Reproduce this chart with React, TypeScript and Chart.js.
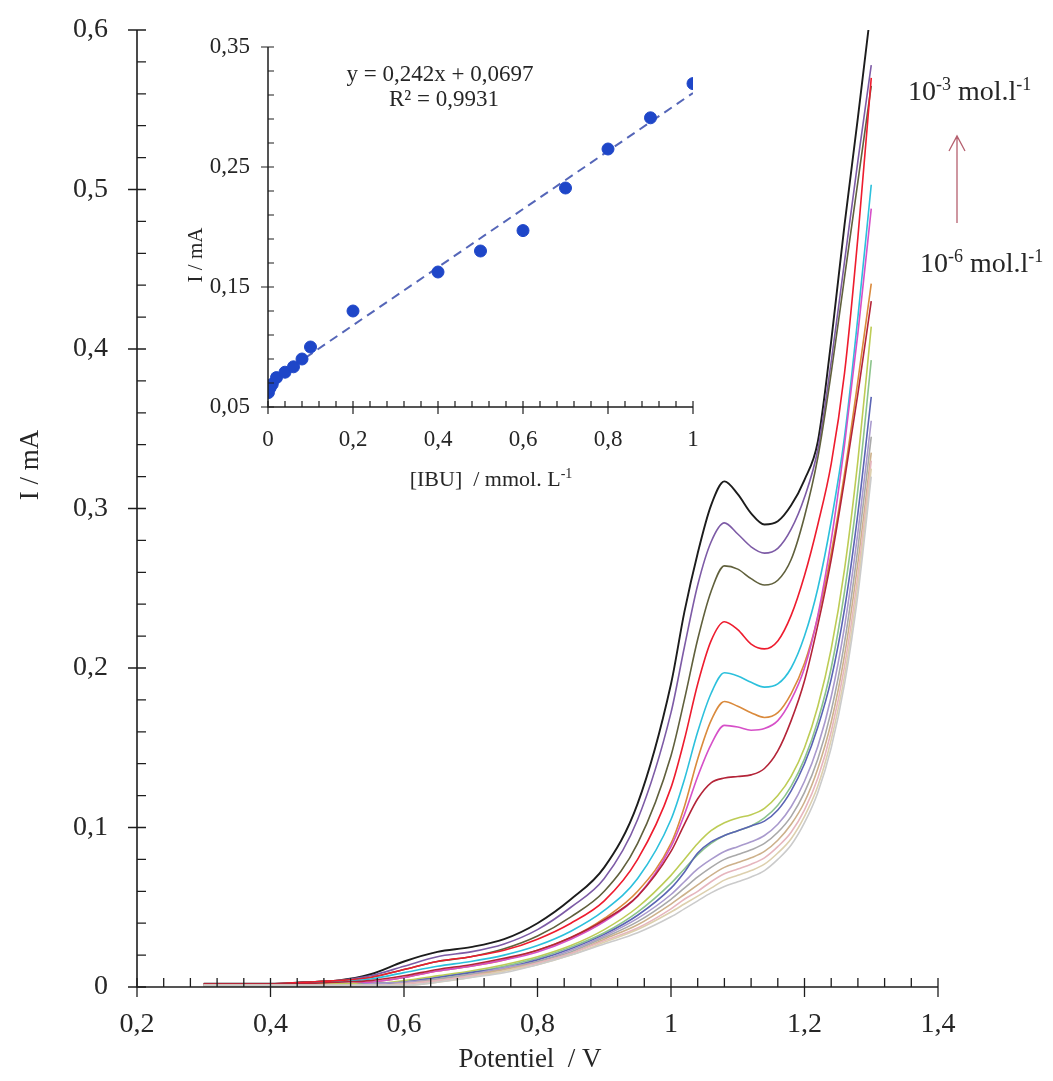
import React, { useEffect, useRef } from "react";
import { Chart, registerables } from "chart.js";

Chart.register(...registerables);

// ---------- Main chart data (Potential / V vs I / mA) ----------
const potentialV = [0.30, 0.35, 0.40, 0.45, 0.50, 0.55, 0.60, 0.65, 0.70, 0.75, 0.80, 0.85, 0.90, 0.95, 1.00, 1.02, 1.04, 1.06, 1.08, 1.10, 1.12, 1.14, 1.16, 1.18, 1.20, 1.22, 1.24, 1.26, 1.28, 1.30];

const curveBlack = [0.002, 0.002, 0.002, 0.003, 0.004, 0.008, 0.016, 0.022, 0.025, 0.030, 0.040, 0.055, 0.075, 0.115, 0.190, 0.235, 0.272, 0.302, 0.317, 0.309, 0.297, 0.290, 0.292, 0.302, 0.318, 0.342, 0.405, 0.478, 0.545, 0.615];
const curvePurple = [0.002, 0.002, 0.002, 0.003, 0.004, 0.007, 0.013, 0.019, 0.022, 0.027, 0.036, 0.050, 0.068, 0.105, 0.172, 0.213, 0.252, 0.279, 0.291, 0.284, 0.276, 0.272, 0.275, 0.287, 0.307, 0.337, 0.392, 0.455, 0.518, 0.578];
const curveOlive = [0.002, 0.002, 0.002, 0.003, 0.004, 0.006, 0.011, 0.016, 0.019, 0.024, 0.032, 0.044, 0.060, 0.090, 0.145, 0.180, 0.218, 0.248, 0.264, 0.262, 0.256, 0.252, 0.255, 0.268, 0.295, 0.332, 0.385, 0.445, 0.505, 0.565];
const curveRed = [0.002, 0.002, 0.002, 0.003, 0.004, 0.006, 0.011, 0.016, 0.019, 0.023, 0.030, 0.040, 0.054, 0.080, 0.125, 0.155, 0.190, 0.217, 0.229, 0.224, 0.215, 0.212, 0.217, 0.233, 0.258, 0.290, 0.328, 0.385, 0.470, 0.570];
const curveCyan = [0.001, 0.001, 0.002, 0.002, 0.003, 0.005, 0.009, 0.013, 0.016, 0.020, 0.026, 0.035, 0.048, 0.068, 0.105, 0.130, 0.160, 0.184, 0.197, 0.195, 0.191, 0.188, 0.190, 0.200, 0.220, 0.250, 0.292, 0.345, 0.420, 0.503];
const curveOrange = [0.001, 0.001, 0.001, 0.002, 0.002, 0.003, 0.006, 0.010, 0.013, 0.017, 0.023, 0.031, 0.043, 0.060, 0.090, 0.113, 0.143, 0.167, 0.179, 0.176, 0.172, 0.169, 0.172, 0.184, 0.203, 0.232, 0.272, 0.322, 0.380, 0.441];
const curveMagenta = [0.001, 0.001, 0.001, 0.002, 0.002, 0.003, 0.006, 0.010, 0.013, 0.017, 0.022, 0.030, 0.041, 0.057, 0.088, 0.108, 0.132, 0.152, 0.164, 0.163, 0.161, 0.162, 0.167, 0.180, 0.200, 0.233, 0.280, 0.340, 0.410, 0.488];
const curveDarkRed = [0.002, 0.002, 0.002, 0.002, 0.003, 0.004, 0.007, 0.011, 0.014, 0.018, 0.023, 0.031, 0.042, 0.057, 0.085, 0.102, 0.118, 0.128, 0.131, 0.132, 0.133, 0.137, 0.148, 0.167, 0.192, 0.227, 0.268, 0.318, 0.372, 0.430];
const curveYellowGreen = [0.001, 0.001, 0.001, 0.001, 0.002, 0.002, 0.004, 0.007, 0.010, 0.014, 0.019, 0.026, 0.036, 0.050, 0.070, 0.080, 0.090, 0.098, 0.103, 0.106, 0.108, 0.112, 0.120, 0.132, 0.150, 0.176, 0.212, 0.262, 0.330, 0.414];
const curveGreen = [0.001, 0.001, 0.001, 0.001, 0.001, 0.002, 0.003, 0.006, 0.009, 0.013, 0.018, 0.025, 0.034, 0.047, 0.065, 0.074, 0.083, 0.090, 0.095, 0.098, 0.101, 0.106, 0.114, 0.126, 0.143, 0.167, 0.200, 0.248, 0.312, 0.393];
const curveSlateBlue = [0.001, 0.001, 0.001, 0.001, 0.001, 0.002, 0.003, 0.006, 0.009, 0.012, 0.017, 0.024, 0.033, 0.045, 0.062, 0.072, 0.084, 0.091, 0.095, 0.098, 0.101, 0.104, 0.111, 0.123, 0.140, 0.163, 0.193, 0.237, 0.297, 0.370];
const curveLavender = [0.001, 0.001, 0.001, 0.001, 0.001, 0.002, 0.003, 0.005, 0.008, 0.012, 0.016, 0.023, 0.032, 0.043, 0.058, 0.066, 0.074, 0.080, 0.085, 0.088, 0.091, 0.095, 0.102, 0.113, 0.129, 0.151, 0.182, 0.226, 0.285, 0.355];
const curveGray = [0.001, 0.001, 0.001, 0.001, 0.001, 0.001, 0.002, 0.005, 0.008, 0.011, 0.016, 0.022, 0.031, 0.041, 0.055, 0.062, 0.069, 0.075, 0.080, 0.083, 0.086, 0.090, 0.097, 0.107, 0.122, 0.143, 0.173, 0.216, 0.275, 0.345];
const curveTan = [0.001, 0.001, 0.001, 0.001, 0.001, 0.001, 0.002, 0.004, 0.007, 0.011, 0.015, 0.021, 0.030, 0.039, 0.052, 0.058, 0.064, 0.070, 0.075, 0.078, 0.081, 0.085, 0.092, 0.102, 0.116, 0.137, 0.166, 0.208, 0.266, 0.335];
const curvePink = [0.001, 0.001, 0.001, 0.001, 0.001, 0.001, 0.002, 0.004, 0.007, 0.010, 0.015, 0.021, 0.029, 0.037, 0.049, 0.055, 0.060, 0.066, 0.071, 0.074, 0.077, 0.081, 0.088, 0.097, 0.111, 0.131, 0.160, 0.201, 0.258, 0.330];
const curveBeige = [0.001, 0.001, 0.001, 0.001, 0.001, 0.001, 0.001, 0.003, 0.006, 0.010, 0.014, 0.020, 0.028, 0.036, 0.047, 0.052, 0.057, 0.062, 0.067, 0.070, 0.073, 0.077, 0.084, 0.093, 0.107, 0.126, 0.155, 0.195, 0.252, 0.325];
const curveLightGray = [0.001, 0.001, 0.001, 0.001, 0.001, 0.001, 0.001, 0.003, 0.006, 0.009, 0.014, 0.020, 0.027, 0.034, 0.044, 0.049, 0.054, 0.059, 0.063, 0.066, 0.069, 0.073, 0.080, 0.089, 0.103, 0.122, 0.150, 0.190, 0.246, 0.320];

// drawn from back (first) to front (last)
const mainSeries = [curveLightGray, curveBeige, curvePink, curveTan, curveGray, curveLavender, curveSlateBlue, curveGreen, curveYellowGreen, curveDarkRed, curveMagenta, curveOrange, curveCyan, curveRed, curveOlive, curvePurple, curveBlack];
const mainColors = ["#cbcbcb", "#ddd0ae", "#e6b6be", "#cdb18b", "#a9a9a9", "#a99acd", "#5a64b4", "#8cc48c", "#bdcc55", "#b42438", "#d650c8", "#da8a3c", "#2cc0dc", "#ee1c2e", "#60603c", "#7d5ba6", "#1c1c1c"];

const mainXTicks = [0.2, 0.4, 0.6, 0.8, 1.0, 1.2, 1.4];
const mainYTicks = [0, 0.1, 0.2, 0.3, 0.4, 0.5, 0.6];

// ---------- Inset data ([IBU] / mmol.L-1 vs I / mA) ----------
const ibuConc = [0.001, 0.005, 0.01, 0.02, 0.04, 0.06, 0.08, 0.1, 0.2, 0.4, 0.5, 0.6, 0.7, 0.8, 0.9, 1.0];
const ibuCurrent = [0.062, 0.066, 0.069, 0.0745, 0.079, 0.0835, 0.090, 0.100, 0.130, 0.1625, 0.180, 0.197, 0.2325, 0.265, 0.291, 0.3195];
const fitConc = [0, 1];
const fitCurrent = [0.0697, 0.3117];

const insetXTicks = [0, 0.2, 0.4, 0.6, 0.8, 1];
const insetYTicks = [0.05, 0.15, 0.25, 0.35];

const SERIF = '"Liberation Serif", "Times New Roman", serif';
const TEXT = "#262626";
const AXIS = "#1e1e1e";

function fmt(v: number): string {
  return String(Math.round(v * 1000) / 1000).replace(".", ",");
}

function drawParts(ctx: CanvasRenderingContext2D, x: number, y: number, parts: [string, boolean][], size: number) {
  let cx = x;
  for (const [t, sup] of parts) {
    ctx.font = `${sup ? Math.round(size * 0.64) : size}px ${SERIF}`;
    ctx.fillText(t, cx, sup ? y - size * 0.36 : y);
    cx += ctx.measureText(t).width;
  }
}

function partsWidth(ctx: CanvasRenderingContext2D, parts: [string, boolean][], size: number) {
  let w = 0;
  for (const [t, sup] of parts) {
    ctx.font = `${sup ? Math.round(size * 0.64) : size}px ${SERIF}`;
    w += ctx.measureText(t).width;
  }
  return w;
}

function zeroPad(s: any) {
  s.paddingTop = 0;
  s.paddingBottom = 0;
  s.paddingLeft = 0;
  s.paddingRight = 0;
}

const mainDecor = {
  id: "mainDecor",
  afterDraw(chart: any) {
    const ctx: CanvasRenderingContext2D = chart.ctx;
    const xs = chart.scales.x;
    const ys = chart.scales.y;
    const ax = xs.getPixelForValue(0.2);
    const ay = ys.getPixelForValue(0);
    const right = xs.getPixelForValue(1.4);
    const top = ys.getPixelForValue(0.6);
    ctx.save();
    ctx.strokeStyle = AXIS;
    ctx.lineWidth = 1.6;
    ctx.beginPath();
    ctx.moveTo(ax, top);
    ctx.lineTo(ax, ay);
    ctx.lineTo(right, ay);
    ctx.stroke();
    ctx.lineWidth = 1.3;
    ctx.beginPath();
    for (let i = 0; i <= 30; i++) {
      const py = ys.getPixelForValue(i * 0.02);
      ctx.moveTo(i % 5 === 0 ? ax - 9 : ax, py);
      ctx.lineTo(ax + 9, py);
    }
    for (let i = 0; i <= 30; i++) {
      const px = xs.getPixelForValue(0.2 + i * 0.04);
      ctx.moveTo(px, ay - 9);
      ctx.lineTo(px, i % 5 === 0 ? ay + 10 : ay);
    }
    ctx.stroke();

    // axis titles
    ctx.fillStyle = TEXT;
    ctx.font = `27px ${SERIF}`;
    ctx.textAlign = "center";
    ctx.textBaseline = "middle";
    ctx.fillText("Potentiel  / V", 530, 1060);
    ctx.save();
    ctx.translate(31, 465);
    ctx.rotate(-Math.PI / 2);
    ctx.fillText("I / mA", 0, 0);
    ctx.restore();

    // concentration annotations
    ctx.textAlign = "left";
    ctx.textBaseline = "alphabetic";
    const size = 28;
    const hi: [string, boolean][] = [["10", false], ["-3", true], [" mol.l", false], ["-1", true]];
    const lo: [string, boolean][] = [["10", false], ["-6", true], [" mol.l", false], ["-1", true]];
    drawParts(ctx, 908, 100, hi, size);
    drawParts(ctx, 920, 272, lo, size);

    ctx.strokeStyle = "#b5606f";
    ctx.lineWidth = 1.3;
    ctx.beginPath();
    ctx.moveTo(957, 223);
    ctx.lineTo(957, 136);
    ctx.moveTo(949, 151);
    ctx.lineTo(957, 136);
    ctx.lineTo(965, 151);
    ctx.stroke();
    ctx.restore();
  },
};

const insetDecor = {
  id: "insetDecor",
  afterDraw(chart: any) {
    const ctx: CanvasRenderingContext2D = chart.ctx;
    const xs = chart.scales.x;
    const ys = chart.scales.y;
    const ax = xs.getPixelForValue(0);
    const ay = ys.getPixelForValue(0.05);
    const right = xs.getPixelForValue(1);
    const top = ys.getPixelForValue(0.35);
    ctx.save();
    ctx.strokeStyle = AXIS;
    ctx.lineWidth = 1.5;
    ctx.beginPath();
    ctx.moveTo(ax, top);
    ctx.lineTo(ax, ay);
    ctx.lineTo(right, ay);
    ctx.stroke();
    ctx.lineWidth = 1.2;
    ctx.beginPath();
    for (let i = 0; i <= 15; i++) {
      const py = ys.getPixelForValue(0.05 + i * 0.02);
      ctx.moveTo(i % 5 === 0 ? ax - 7 : ax, py);
      ctx.lineTo(ax + 6, py);
    }
    for (let i = 0; i <= 25; i++) {
      const px = xs.getPixelForValue(i * 0.04);
      ctx.moveTo(px, ay - 6);
      ctx.lineTo(px, i % 5 === 0 ? ay + 7 : ay);
    }
    ctx.stroke();

    ctx.fillStyle = TEXT;
    ctx.textAlign = "center";
    ctx.textBaseline = "middle";
    ctx.font = `23px ${SERIF}`;
    ctx.fillText("y = 0,242x + 0,0697", 260, 55);
    ctx.fillText("R² = 0,9931", 264, 80);

    ctx.font = `21px ${SERIF}`;
    ctx.save();
    ctx.translate(16, 235);
    ctx.rotate(-Math.PI / 2);
    ctx.fillText("I / mA", 0, 0);
    ctx.restore();

    ctx.textAlign = "left";
    ctx.textBaseline = "alphabetic";
    const parts: [string, boolean][] = [["[IBU]  / mmol. L", false], ["-1", true]];
    const w = partsWidth(ctx, parts, 22);
    drawParts(ctx, 311 - w / 2, 466, parts, 22);
    ctx.restore();
  },
};

export default function App() {
  const mainRef = useRef<HTMLCanvasElement>(null);
  const insetRef = useRef<HTMLCanvasElement>(null);

  useEffect(() => {
    document.body.style.margin = "0";
    if (!mainRef.current || !insetRef.current) return;

    const main = new Chart(mainRef.current, {
      type: "line",
      data: {
        datasets: mainSeries.map((ys, i) => ({
          data: potentialV.map((v, j) => ({ x: v, y: ys[j] })),
          borderColor: mainColors[i],
          borderWidth: i === mainSeries.length - 1 ? 1.9 : 1.6,
          pointRadius: 0,
          fill: false,
          cubicInterpolationMode: "monotone" as const,
        })),
      },
      options: {
        animation: false,
        responsive: false,
        maintainAspectRatio: false,
        events: [],
        layout: { padding: { top: 30, right: 115, bottom: 0, left: 0 } },
        plugins: { legend: { display: false }, tooltip: { enabled: false } },
        scales: {
          x: {
            type: "linear",
            min: 0.2,
            max: 1.4,
            afterBuildTicks: (s: any) => {
              s.ticks = mainXTicks.map((v) => ({ value: v }));
            },
            afterFit: (s: any) => {
              s.height = 94;
              zeroPad(s);
            },
            grid: { display: false, drawTicks: false },
            border: { display: false },
            ticks: {
              callback: (v: any) => fmt(Number(v)),
              color: TEXT,
              font: { family: SERIF, size: 28 },
              padding: 21,
              maxRotation: 0,
              autoSkip: false,
            },
          },
          y: {
            type: "linear",
            min: 0,
            max: 0.6,
            afterBuildTicks: (s: any) => {
              s.ticks = mainYTicks.map((v) => ({ value: v }));
            },
            afterFit: (s: any) => {
              s.width = 137;
              zeroPad(s);
            },
            grid: { display: false, drawTicks: false },
            border: { display: false },
            ticks: {
              callback: (v: any) => fmt(Number(v)),
              color: TEXT,
              font: { family: SERIF, size: 28 },
              padding: 29,
              autoSkip: false,
            },
          },
        },
      },
      plugins: [mainDecor],
    });

    const inset = new Chart(insetRef.current, {
      type: "scatter",
      data: {
        datasets: [
          {
            data: ibuConc.map((c, i) => ({ x: c, y: ibuCurrent[i] })),
            backgroundColor: "#1e46c8",
            borderColor: "#1e46c8",
            pointRadius: 6,
            showLine: false,
          },
          {
            data: fitConc.map((c, i) => ({ x: c, y: fitCurrent[i] })),
            borderColor: "#5566b8",
            borderWidth: 2,
            borderDash: [9, 6],
            pointRadius: 0,
            showLine: true,
          },
        ],
      },
      options: {
        animation: false,
        responsive: false,
        maintainAspectRatio: false,
        events: [],
        layout: { padding: { top: 27, right: 27, bottom: 0, left: 0 } },
        plugins: { legend: { display: false }, tooltip: { enabled: false } },
        scales: {
          x: {
            type: "linear",
            min: 0,
            max: 1,
            afterBuildTicks: (s: any) => {
              s.ticks = insetXTicks.map((v) => ({ value: v }));
            },
            afterFit: (s: any) => {
              s.height = 93;
              zeroPad(s);
            },
            grid: { display: false, drawTicks: false },
            border: { display: false },
            ticks: {
              callback: (v: any) => fmt(Number(v)),
              color: TEXT,
              font: { family: SERIF, size: 23 },
              padding: 19,
              maxRotation: 0,
              autoSkip: false,
            },
          },
          y: {
            type: "linear",
            min: 0.05,
            max: 0.35,
            afterBuildTicks: (s: any) => {
              s.ticks = insetYTicks.map((v) => ({ value: v }));
            },
            afterFit: (s: any) => {
              s.width = 88;
              zeroPad(s);
            },
            grid: { display: false, drawTicks: false },
            border: { display: false },
            ticks: {
              callback: (v: any) => fmt(Number(v)),
              color: TEXT,
              font: { family: SERIF, size: 23 },
              padding: 18,
              autoSkip: false,
            },
          },
        },
      },
      plugins: [insetDecor],
    });

    return () => {
      main.destroy();
      inset.destroy();
    };
  }, []);

  return (
    <div style={{ position: "relative", width: 1053, height: 1081, background: "#ffffff" }}>
      <canvas ref={mainRef} width={1053} height={1081} style={{ position: "absolute", left: 0, top: 0, width: 1053, height: 1081 }} />
      <canvas ref={insetRef} width={540} height={480} style={{ position: "absolute", left: 180, top: 20, width: 540, height: 480 }} />
    </div>
  );
}
